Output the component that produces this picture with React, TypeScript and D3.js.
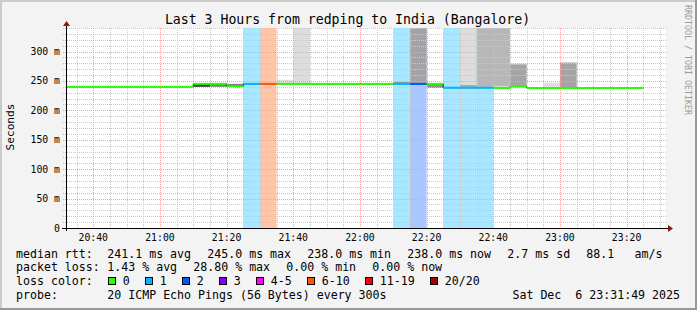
import React from 'react';
import * as d3 from 'd3';

// ---------- data ----------
const intervalStart = [
  '20:30', '20:35', '20:40', '20:45', '20:50', '20:55', '21:00', '21:05',
  '21:10', '21:15', '21:20', '21:25', '21:30', '21:35', '21:40', '21:45',
  '21:50', '21:55', '22:00', '22:05', '22:10', '22:15', '22:20', '22:25',
  '22:30', '22:35', '22:40', '22:45', '22:50', '22:55', '23:00', '23:05',
  '23:10', '23:15', '23:20',
];
const medianRtt = [
  240, 240, 240, 240, 240, 240, 240, 240,
  245, 245, 241, 245, 245, 245, 245, 245,
  245, 245, 245, 245, 245, 245, 245, 238.5,
  238.5, 238.5, 238, 240.5, 238, 238, 238, 238,
  238, 238, 238,
];
const lossPings = [
  0, 0, 0, 0, 0, 0, 0, 0,
  0, 0, 0, 1, 5.76, 0, 0, 0,
  0, 0, 0, 0, 1, 2, 0, 1,
  1, 1, 0, 0, 0, 0, 0, 0,
  0, 0, 0,
];
// smoke (ping spread) areas
const smokeTime = ['21:10', '21:15', '21:20', '21:35', '21:40', '22:10', '22:15', '22:20', '22:30', '22:30', '22:35', '22:40', '22:45', '22:45', '22:55', '23:00', '23:00'];
const smokeLow = [240, 240, 241, 245, 245, 245, 245, 238, 240, 240, 240, 240.5, 240.5, 240.5, 238, 238, 238];
const smokeHigh = [245, 245, 245, 252, 999, 248, 999, 245, 999, 243, 999, 999, 280, 278, 247, 282, 281];
const smokeShade = ['#3c3c3c', '#7e7e7e', '#7e7e7e', '#dddddd', '#dddddd', '#919191', '#a4a4a4', '#919191', '#dddddd', '#a4a4a4', '#b7b7b7', '#b7b7b7', '#dddddd', '#a4a4a4', '#dddddd', '#dddddd', '#a4a4a4'];

const lossLabels = ['0', '1', '2', '3', '4-5', '6-10', '11-19', '20/20'];
const lossColors = ['#26ff00', '#00b8ff', '#0059ff', '#7e00ff', '#ff00ff', '#ff5500', '#ff0000', '#a10000'];
const lossUpper = [0, 1, 2, 3, 5, 10, 19, 20];

const xTickLabels = ['20:40', '21:00', '21:20', '21:40', '22:00', '22:20', '22:40', '23:00', '23:20'];
const yMajorTicks = [0, 50, 100, 150, 200, 250, 300];

const rttStatValues = [241.1, 245.0, 238.0, 238.0, 2.7];
const rttStatNames = ['ms avg', 'ms max', 'ms min', 'ms now', 'ms sd'];
const amPerSecond = 88.1;
const lossStatValues = [1.43, 28.80, 0.00, 0.00];
const lossStatNames = ['% avg', '% max', '% min', '% now'];
const probeText = '20 ICMP Echo Pings (56 Bytes) every 300s';
const dateText = 'Sat Dec  6 23:31:49 2025';
const titleText = 'Last 3 Hours from redping to India (Bangalore)';

// ---------- layout ----------
const W = 697;
const H = 310;
const PL = 66, PR = 666, PT = 28, PB = 228;
const mono = '"DejaVu Sans Mono", monospace';
const CH = 7.0;
const GAP = 16;

const toMin = (s: string) => {
  const [h, m] = s.split(':').map(Number);
  return h * 60 + m;
};
const tStart = 20 * 60 + 31 + 49 / 60;
const tEnd = tStart + 180;
const x = d3.scaleLinear().domain([tStart, tEnd]).range([PL, PR]);
const y = d3.scaleLinear().domain([0, 340]).range([PB, PT]).clamp(true);

const lossBucket = (l: number) => {
  if (l <= 0) return 0;
  for (let k = 1; k < lossUpper.length; k++) if (l > lossUpper[k - 1] && l <= lossUpper[k]) return k;
  return lossUpper.length - 1;
};

const flow = (start: number, items: string[]) => {
  const xs: number[] = [];
  let cx = start;
  items.forEach(s => {
    xs.push(cx);
    cx += s.length * CH + GAP;
  });
  return xs;
};

export default function App() {
  const step = 5;
  const minorY = d3.range(0, 341, 10);
  const minorX = d3.range(toMin('20:35'), tEnd, 5);
  const majorX = xTickLabels.map(toMin);

  const medPts: [number, number][] = [];
  intervalStart.forEach((t, i) => {
    medPts.push([toMin(t), medianRtt[i]]);
  });
  medPts.push([toMin(intervalStart[intervalStart.length - 1]) + step, medianRtt[medianRtt.length - 1]]);
  const stepLine = d3.line<[number, number]>().x(d => x(d[0])).y(d => y(d[1])).curve(d3.curveStepAfter);
  const segLine = d3.line<[number, number]>().x(d => x(d[0])).y(d => y(d[1]));

  const rowY = [257.5, 271, 285, 298.5];
  const rttItems = [...rttStatValues.map((v, i) => `${v.toFixed(1)} ${rttStatNames[i]}`), amPerSecond.toFixed(1), 'am/s'];
  const rttX = flow(107.3, rttItems);
  rttX[rttX.length - 1] = 634.5;
  const lossItems = lossStatValues.map((v, i) => `${v.toFixed(2)} ${lossStatNames[i]}`);
  const lossX = flow(107.3, lossItems);
  const boxX: number[] = [];
  {
    let cx = 108.3;
    lossLabels.forEach(l => {
      boxX.push(cx);
      cx += 14 + l.length * CH + GAP;
    });
  }

  return (
    <svg width={W} height={H} style={{ display: 'block', position: 'absolute', left: 0, top: 0 }}>
      <defs>
        <clipPath id="plot">
          <rect x={PL} y={PT} width={PR - PL} height={PB - PT} />
        </clipPath>
      </defs>
      <rect x={0} y={0} width={W} height={H} fill="#f3f3f3" />
      <line x1={0} y1={1} x2={W} y2={1} stroke="#cbcbcb" strokeWidth={2} />
      <line x1={1} y1={0} x2={1} y2={H} stroke="#cbcbcb" strokeWidth={2} />
      <line x1={0} y1={H - 1} x2={W} y2={H - 1} stroke="#999999" strokeWidth={2} />
      <line x1={W - 1} y1={0} x2={W - 1} y2={H} stroke="#999999" strokeWidth={2} />

      <rect x={PL} y={PT} width={PR - PL} height={PB - PT} fill="#ffffff" />

      <g clipPath="url(#plot)">
        {intervalStart.map((t, i) => {
          const b = lossBucket(lossPings[i]);
          if (b === 0) return null;
          return (
            <rect key={'lb' + i} x={x(toMin(t))} y={PT} width={x(toMin(t) + step) - x(toMin(t))} height={PB - PT}
              fill={lossColors[b]} fillOpacity={0.34} />
          );
        })}
        {smokeTime.map((t, i) => (
          <rect key={'sm' + i} x={x(toMin(t))} width={x(toMin(t) + step) - x(toMin(t))}
            y={y(smokeHigh[i])} height={Math.max(1, y(smokeLow[i]) - y(smokeHigh[i]))} fill={smokeShade[i]} />
        ))}
      </g>

      <g shapeRendering="crispEdges">
        {minorY.map(v => (
          <line key={'hy' + v} x1={PL - 3} x2={PR + 1} y1={Math.round(y(v)) + 0.5} y2={Math.round(y(v)) + 0.5}
            stroke="#c8c8c8" strokeDasharray="1,1" />
        ))}
        {minorX.map(v => (
          <line key={'vx' + v} y1={PT} y2={PB + 2} x1={Math.round(x(v)) + 0.5} x2={Math.round(x(v)) + 0.5}
            stroke="#c8c8c8" strokeDasharray="1,1" />
        ))}
        {yMajorTicks.map(v => (
          <line key={'my' + v} x1={PL - 3} x2={PR + 1} y1={Math.round(y(v)) + 0.5} y2={Math.round(y(v)) + 0.5}
            stroke="#f2a0a0" strokeDasharray="1,1" />
        ))}
        {majorX.map(v => (
          <line key={'mx' + v} y1={PT} y2={PB + 2} x1={Math.round(x(v)) + 0.5} x2={Math.round(x(v)) + 0.5}
            stroke="#f2a0a0" strokeDasharray="1,1" />
        ))}
      </g>

      <g clipPath="url(#plot)">
        <path d={stepLine(medPts) || ''} fill="none" stroke="#202020" strokeWidth={1} />
        {intervalStart.map((t, i) => {
          const b = lossBucket(lossPings[i]);
          const t0 = toMin(t);
          return (
            <path key={'md' + i} d={segLine([[t0, medianRtt[i]], [t0 + step, medianRtt[i]]]) || ''}
              stroke={lossColors[b]} strokeWidth={2} fill="none" />
          );
        })}
      </g>

      <line x1={PL - 4} x2={PR + 3} y1={PB + 0.5} y2={PB + 0.5} stroke="#000" strokeWidth={1} shapeRendering="crispEdges" />
      <line x1={PL + 0.5} x2={PL + 0.5} y1={PT - 3} y2={PB + 3} stroke="#000" strokeWidth={1} shapeRendering="crispEdges" />
      <path d={`M${PR + 2},${PB - 3} L${PR + 7},${PB + 0.5} L${PR + 2},${PB + 4} Z`} fill="#8b1a1a" />
      <path d={`M${PL - 3},${PT - 2} L${PL + 0.5},${PT - 7} L${PL + 4},${PT - 2} Z`} fill="#8b1a1a" />

      {yMajorTicks.map(v => (
        <text key={'yl' + v} x={60} y={y(v) + 3.5} textAnchor="end" fontFamily={mono} fontSize={9.8} fill="#000">
          {v === 0 ? '0' : `${v} m`}
        </text>
      ))}
      {xTickLabels.map((l, i) => (
        <text key={'xl' + l} x={x(majorX[i])} y={241} textAnchor="middle" fontFamily={mono} fontSize={9.8} fill="#000">
          {l}
        </text>
      ))}

      <text transform="translate(14,127) rotate(-90)" textAnchor="middle" fontFamily={mono} fontSize={11.2} fill="#000">Seconds</text>
      <text x={347.5} y={24} textAnchor="middle" fontFamily={mono} fontSize={13.2} fill="#000">{titleText}</text>
      <text transform="translate(685,5) rotate(90)" fontFamily={mono} fontSize={8.3} fill="#9a9a9a">RRDTOOL / TOBI OETIKER</text>

      <g fontFamily={mono} fontSize={11.6} fill="#000">
        <text x={16} y={rowY[0]}>median rtt:</text>
        {rttItems.map((s, i) => (
          <text key={'rs' + i} x={rttX[i]} y={rowY[0]} xmlSpace="preserve">{s}</text>
        ))}

        <text x={16} y={rowY[1]}>packet loss:</text>
        {lossItems.map((s, i) => (
          <text key={'ls' + i} x={lossX[i]} y={rowY[1]} xmlSpace="preserve">{s}</text>
        ))}

        <text x={16} y={rowY[2]}>loss color:</text>
        {lossLabels.map((l, i) => (
          <g key={'lc' + i}>
            <rect x={Math.round(boxX[i]) + 0.5} y={277.5} width={7} height={7} fill={lossColors[i]} stroke="#000" strokeWidth={1} shapeRendering="crispEdges" />
            <text x={boxX[i] + 14.5} y={rowY[2]}>{l}</text>
          </g>
        ))}

        <text x={16} y={rowY[3]}>probe:</text>
        <text x={107.3} y={rowY[3]}>{probeText}</text>
        <text x={680} y={rowY[3]} textAnchor="end" xmlSpace="preserve" style={{ whiteSpace: 'pre' }}>{dateText}</text>
      </g>
    </svg>
  );
}
